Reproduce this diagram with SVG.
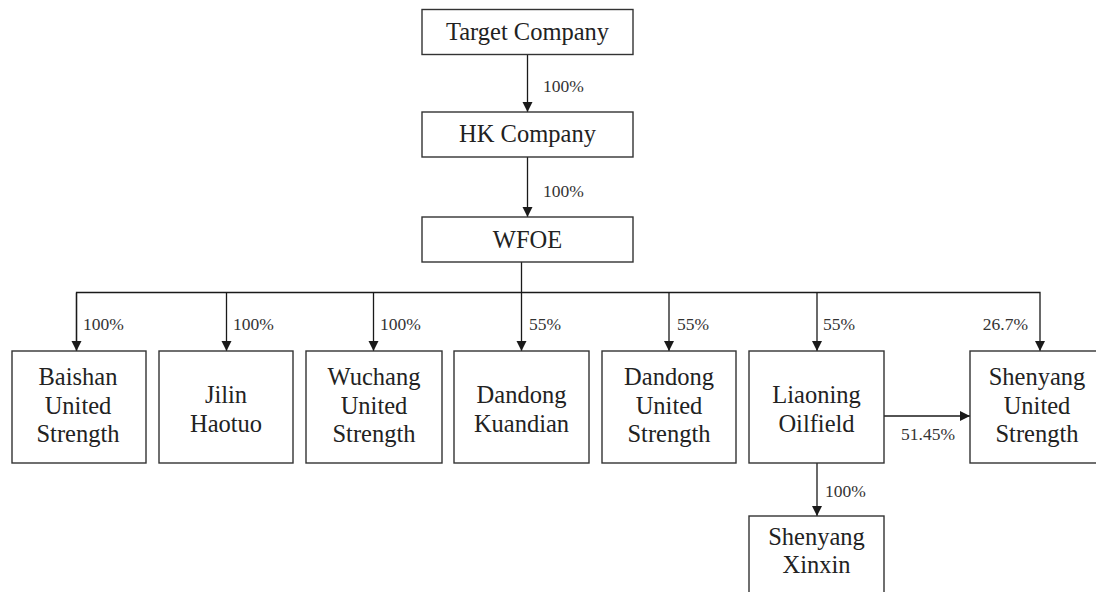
<svg xmlns="http://www.w3.org/2000/svg" width="1096" height="592" viewBox="0 0 1096 592">
<defs>
<marker id="arr" markerUnits="userSpaceOnUse" markerWidth="11" markerHeight="11" refX="10" refY="5" orient="auto">
<path d="M0,0 L10,5 L0,10 z" fill="#1a1a1a"/>
</marker>
<style>
.box{fill:#fff;stroke:#333;stroke-width:1.4}
.t{font-family:"Liberation Serif","Times New Roman",serif;font-size:24.5px;fill:#222;text-anchor:middle}
.p{font-family:"Liberation Serif","Times New Roman",serif;font-size:17.5px;fill:#333}
.c{fill:none;stroke:#1a1a1a;stroke-width:1.3}
</style>
</defs>
<rect width="1096" height="592" fill="#fff"/>
<g id="connectors">
<line class="c" x1="527.5" y1="54.5" x2="527.5" y2="112" marker-end="url(#arr)"/>
<line class="c" x1="527.5" y1="157" x2="527.5" y2="217" marker-end="url(#arr)"/>
<line class="c" x1="521.5" y1="262" x2="521.5" y2="351" marker-end="url(#arr)"/>
<polyline class="c" points="76.5,351 76.5,292.5 1040,292.5 1040,351" marker-end="url(#arr)"/>
<line class="c" x1="76.5" y1="293" x2="76.5" y2="351" marker-end="url(#arr)"/>
<line class="c" x1="226.5" y1="292.5" x2="226.5" y2="351" marker-end="url(#arr)"/>
<line class="c" x1="373.5" y1="292.5" x2="373.5" y2="351" marker-end="url(#arr)"/>
<line class="c" x1="669" y1="292.5" x2="669" y2="351" marker-end="url(#arr)"/>
<line class="c" x1="817" y1="292.5" x2="817" y2="351" marker-end="url(#arr)"/>
<line class="c" x1="884" y1="416" x2="970" y2="416" marker-end="url(#arr)"/>
<line class="c" x1="817" y1="463" x2="817" y2="516" marker-end="url(#arr)"/>
<text class="p" x="543" y="92">100%</text>
<text class="p" x="543" y="197">100%</text>
<text class="p" x="83" y="330">100%</text>
<text class="p" x="233" y="330">100%</text>
<text class="p" x="380" y="330">100%</text>
<text class="p" x="529" y="330">55%</text>
<text class="p" x="677" y="330">55%</text>
<text class="p" x="823" y="330">55%</text>
<text class="p" x="1028" y="330" text-anchor="end">26.7%</text>
<text class="p" x="901" y="440">51.45%</text>
<text class="p" x="825" y="497">100%</text>
</g>
<g id="target">
<rect class="box" x="422" y="9.5" width="211" height="45"/>
<text class="t" x="527.5" y="39.5">Target Company</text>
</g>
<g id="hk">
<rect class="box" x="422" y="112" width="211" height="45"/>
<text class="t" x="527.5" y="142">HK Company</text>
</g>
<g id="wfoe">
<rect class="box" x="422" y="217" width="211" height="45"/>
<text class="t" x="527.5" y="248">WFOE</text>
</g>
<g id="baishan">
<rect class="box" x="12" y="351" width="134" height="112"/>
<text class="t" x="78" y="385">Baishan</text>
<text class="t" x="78" y="414">United</text>
<text class="t" x="78" y="442">Strength</text>
</g>
<g id="jilin">
<rect class="box" x="159" y="351" width="134" height="112"/>
<text class="t" x="226" y="403">Jilin</text>
<text class="t" x="226" y="432">Haotuo</text>
</g>
<g id="wuchang">
<rect class="box" x="306" y="351" width="136" height="112"/>
<text class="t" x="374" y="385">Wuchang</text>
<text class="t" x="374" y="414">United</text>
<text class="t" x="374" y="442">Strength</text>
</g>
<g id="dandong-kuandian">
<rect class="box" x="454" y="351" width="135" height="112"/>
<text class="t" x="521.5" y="403">Dandong</text>
<text class="t" x="521.5" y="432">Kuandian</text>
</g>
<g id="dandong-united">
<rect class="box" x="602" y="351" width="134" height="112"/>
<text class="t" x="669" y="385">Dandong</text>
<text class="t" x="669" y="414">United</text>
<text class="t" x="669" y="442">Strength</text>
</g>
<g id="liaoning">
<rect class="box" x="749" y="351" width="135" height="112"/>
<text class="t" x="816.5" y="403">Liaoning</text>
<text class="t" x="816.5" y="432">Oilfield</text>
</g>
<g id="shenyang-united">
<rect class="box" x="970" y="351" width="135" height="112"/>
<text class="t" x="1037" y="385">Shenyang</text>
<text class="t" x="1037" y="414">United</text>
<text class="t" x="1037" y="442">Strength</text>
</g>
<g id="shenyang-xinxin">
<rect class="box" x="749" y="516" width="135" height="112"/>
<text class="t" x="816.5" y="545">Shenyang</text>
<text class="t" x="816.5" y="573">Xinxin</text>
</g>
</svg>
